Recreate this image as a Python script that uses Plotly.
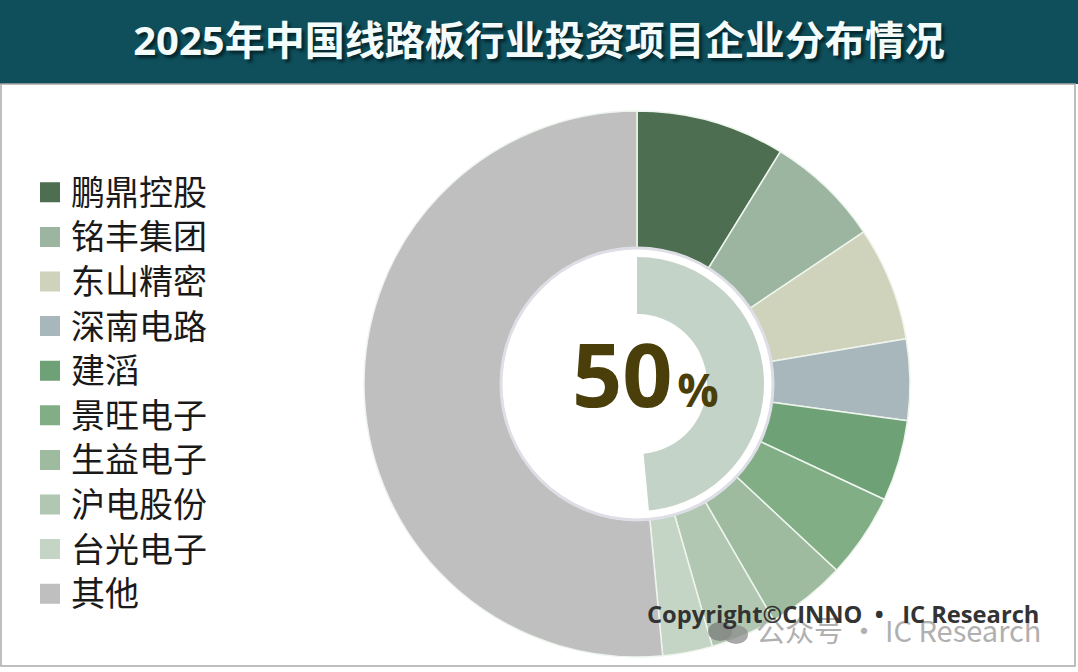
import plotly.graph_objects as go

W = 1078
H = 672
FONT = "Open Sans, Noto Sans CJK SC, sans-serif"

# 数据
companies = ["鹏鼎控股", "铭丰集团", "东山精密", "深南电路", "建滔", "景旺电子", "生益电子", "沪电股份", "台光电子", "其他"]
shares = [8.8, 6.8, 6.75, 4.8, 4.8, 5.0, 4.7, 3.9, 2.95, 51.5]
colors = ["#4d6e50", "#9bb5a1", "#cfd3bc", "#a8b7bc", "#6fa177", "#82ae85", "#9ebb9f", "#b1c7b1", "#c5d5c5", "#bfbfbf"]
top9_share = [48.5, 51.5]
top9_colors = ["#c4d3c7", "rgba(255,255,255,0)"]

title_text = "2025年中国线路板行业投资项目企业分布情况"
center_x, center_y = 637, 384


def pie_domain(r):
    return dict(x=[(center_x - r) / W, (center_x + r) / W],
                y=[(H - center_y - r) / H, (H - center_y + r) / H])


def px(v):
    return v / W


def py(v):
    return 1 - v / H


fig = go.Figure()

# 外环
fig.add_trace(go.Pie(labels=companies, values=shares, sort=False, direction="clockwise",
                     rotation=0, hole=136 / 273, domain=pie_domain(273),
                     marker=dict(colors=colors, line=dict(color="#eef5ee", width=1.5)),
                     textinfo="none", showlegend=False))
# 内环
fig.add_trace(go.Pie(labels=["前九家", "其他"], values=top9_share, sort=False, direction="clockwise",
                     rotation=0, hole=70 / 127, domain=pie_domain(127),
                     marker=dict(colors=top9_colors, line=dict(width=0)),
                     textinfo="none", showlegend=False))

# 图例用空的散点，色块才能画到够大；行高跟 legend 字号走，字本身用 span 放大
for name, color in zip(companies, colors):
    fig.add_trace(go.Scatter(x=[None], y=[None], mode="markers",
                             name='<span style="font-size:34px">' + name + "</span>",
                             marker=dict(symbol="square", size=16, color=color,
                                         line=dict(color=color, width=4))))

shapes = [
    dict(type="rect", xref="paper", yref="paper", layer="below",
         x0=0, x1=1, y0=py(84), y1=1, fillcolor="#0e4f5b", line=dict(width=0)),
    dict(type="rect", xref="paper", yref="paper", layer="below",
         x0=px(1), x1=px(1075), y0=py(666), y1=py(84),
         fillcolor="white", line=dict(color="#a9a9a9", width=1.5)),
    # 白圈的灰边
    dict(type="circle", xref="paper", yref="paper",
         x0=px(center_x - 136), x1=px(center_x + 136), y0=py(center_y + 136), y1=py(center_y - 136),
         line=dict(color="#dedfe6", width=3)),
    # 水印的微信图标
    dict(type="circle", xref="paper", yref="paper", x0=px(708), x1=px(732), y0=py(641), y1=py(622),
         fillcolor="rgba(120,120,120,0.7)", line=dict(width=0)),
    dict(type="circle", xref="paper", yref="paper", x0=px(724), x1=px(748), y0=py(644), y1=py(625),
         fillcolor="rgba(140,140,140,0.75)", line=dict(width=0)),
]

annotations = [
    dict(text='<b>50</b><span style="font-size:46px"><b>\u200a%</b></span>', x=px(645), y=py(373),
         xref="paper", yref="paper", xanchor="center", yanchor="middle", showarrow=False,
         font=dict(family=FONT, size=88, color="#4a3f0b")),
    dict(text="公众号 · IC Research", x=px(754), y=py(629), xanchor="left", yanchor="middle",
         xref="paper", yref="paper", showarrow=False,
         font=dict(family="Noto Sans CJK SC, sans-serif", size=29, color="#b0b0b0")),
    dict(text="<b>Copyright©CINNO \u00a0•\u00a0\u00a0 IC Research</b>", x=px(645), y=py(614),
         xanchor="left", yanchor="middle",
         xref="paper", yref="paper", showarrow=False,
         font=dict(family=FONT, size=23.7, color="#333333")),
]

fig.update_layout(
    width=W, height=H, margin=dict(l=0, r=0, t=0, b=0),
    paper_bgcolor="white", plot_bgcolor="white",
    xaxis=dict(visible=False), yaxis=dict(visible=False),
    title=dict(text="<b>" + title_text + "</b>", x=0.5, xanchor="center", xref="paper",
               y=py(41), yanchor="middle", yref="paper",
               font=dict(family=FONT, size=40, color="#f4fbfb", shadow="3px 3px 3px #06262c")),
    legend=dict(x=px(29), y=py(165), xanchor="left", yanchor="top", itemwidth=32,
                bgcolor="rgba(0,0,0,0)", traceorder="normal",
                font=dict(family="Noto Sans CJK SC, sans-serif", size=32, color="#1a1a1a")),
    shapes=shapes, annotations=annotations, showlegend=True,
)

fig.write_html("out.html", config={"displayModeBar": False},
               post_script="document.body.style.margin='0';")
